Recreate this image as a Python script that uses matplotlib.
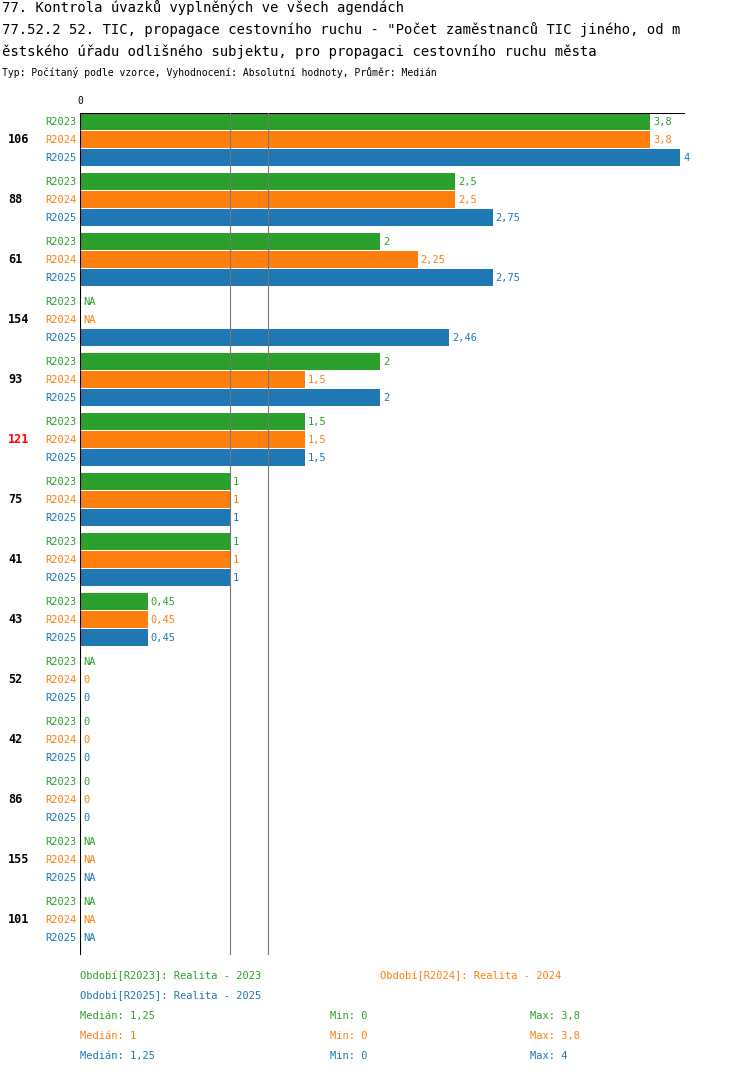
import matplotlib
matplotlib.use('Agg')
import matplotlib.pyplot as plt

plt.rcParams['font.family'] = ['DejaVu Sans Mono']

groups = ['106', '88', '61', '154', '93', '121', '75', '41', '43', '52', '42', '86', '155', '101']
series = ['R2023', 'R2024', 'R2025']
colors = ['#2ca02c', '#ff7f0e', '#1f77b4']
v2023 = [3.8, 2.5, 2, None, 2, 1.5, 1, 1, 0.45, None, 0, 0, None, None]
v2024 = [3.8, 2.5, 2.25, None, 1.5, 1.5, 1, 1, 0.45, 0, 0, 0, None, None]
v2025 = [4, 2.75, 2.75, 2.46, 2, 1.5, 1, 1, 0.45, 0, 0, 0, None, None]
values = [v2023, v2024, v2025]
medians = [1.25, 1, 1.25]
mins = [0, 0, 0]
maxs = [3.8, 3.8, 4]


def fmt(v):
    return ('%g' % v).replace('.', ',')


W, H = 750, 1074
fig = plt.figure(figsize=(W / 100, H / 100), dpi=100)
# axes in pixel layout: x 80..685, y 113..955
ax = fig.add_axes([80 / W, 1 - 955 / H, 605 / W, (955 - 113) / H])
ax.set_xlim(0, 605 / 150)
ax.set_ylim(955, 113)
ax.axis('off')

ax.plot([0, 0], [113, 955], color='black', lw=1.5)
ax.plot([0, 605 / 150], [113, 113], color='black', lw=0.8)
for m in (1, 1.25):
    ax.plot([m, m], [113, 955], color='#777777', lw=0.8)

for i, g in enumerate(groups):
    yc = 122 + 60 * i
    ax.text(-72 / 150, yc + 18, g, fontsize=8.5, fontweight='bold',
            color='red' if g == '121' else 'black', va='center', ha='left')
    for j, s in enumerate(series):
        y = yc + 18 * j
        v = values[j][i]
        ax.text(-3 / 150, y, s, fontsize=7.5, color=colors[j], va='center', ha='right')
        if v is None:
            ax.text(3 / 150, y, 'NA', fontsize=7.5, color=colors[j], va='center', ha='left')
            continue
        ax.barh(y, v, height=17, color=colors[j])
        ax.text(v + 3 / 150, y, fmt(v), fontsize=7.5, color=colors[j], va='center', ha='left')

ax.text(0, 106, '0', fontsize=7, ha='center', va='bottom')

fig.text(2 / W, 1 - 8 / H, '77. Kontrola úvazků vyplněných ve všech agendách', fontsize=10, va='center')
fig.text(2 / W, 1 - 30 / H, '77.52.2 52. TIC, propagace cestovního ruchu - "Počet zaměstnanců TIC jiného, od m',
         fontsize=10, va='center')
fig.text(2 / W, 1 - 52 / H, 'ěstského úřadu odlišného subjektu, pro propagaci cestovního ruchu města',
         fontsize=10, va='center')
fig.text(2 / W, 1 - 73 / H, 'Typ: Počítaný podle vzorce, Vyhodnocení: Absolutní hodnoty, Průměr: Medián',
         fontsize=7, va='center')

fig.text(80 / W, 1 - 976 / H, 'Období[R2023]: Realita - 2023', fontsize=7.5, color=colors[0], va='center')
fig.text(380 / W, 1 - 976 / H, 'Období[R2024]: Realita - 2024', fontsize=7.5, color=colors[1], va='center')
fig.text(80 / W, 1 - 996 / H, 'Období[R2025]: Realita - 2025', fontsize=7.5, color=colors[2], va='center')
for j in range(3):
    y = 1 - (1016 + 20 * j) / H
    fig.text(80 / W, y, 'Medián: ' + fmt(medians[j]), fontsize=7.5, color=colors[j], va='center')
    fig.text(330 / W, y, 'Min: ' + fmt(mins[j]), fontsize=7.5, color=colors[j], va='center')
    fig.text(530 / W, y, 'Max: ' + fmt(maxs[j]), fontsize=7.5, color=colors[j], va='center')

fig.savefig('out.png', dpi=100)
